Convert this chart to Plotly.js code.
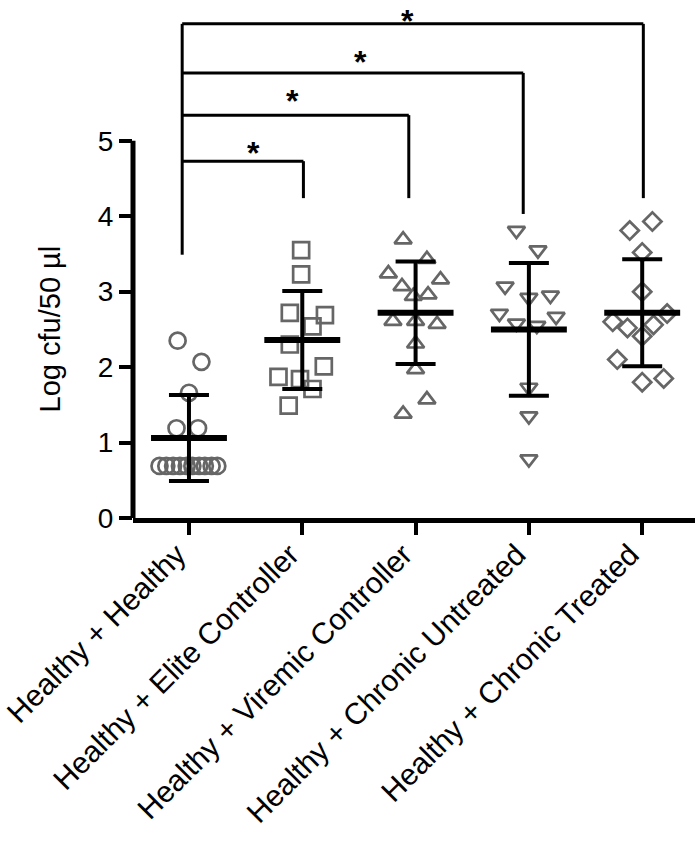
<!DOCTYPE html>
<html>
<head>
<meta charset="utf-8">
<script src="https://cdn.plot.ly/plotly-3.0.1.min.js"></script>
<style>html,body{margin:0;padding:0;background:#fff;}</style>
</head>
<body>
<div id="chart" style="width:700px;height:842px;"></div>
<script>
// ---- data ----
const categories = ["Healthy + Healthy", "Healthy + Elite Controller", "Healthy + Viremic Controller", "Healthy + Chronic Untreated", "Healthy + Chronic Treated"];

const healthyHealthy = [2.35, 2.07, 1.66, 1.19, 1.19, 0.69, 0.69, 0.69, 0.69, 0.69, 0.69, 0.69, 0.69, 0.69, 0.69];
const healthyHealthyJitter = [-0.10, 0.11, 0, -0.11, 0.08, -0.26, -0.20, -0.14, -0.08, -0.02, 0.03, 0.09, 0.14, 0.20, 0.25];

const eliteController = [3.55, 3.23, 2.72, 2.69, 2.54, 2.30, 2.01, 1.87, 1.84, 1.71, 1.49];
const eliteControllerJitter = [-0.01, -0.01, -0.11, 0.20, 0.09, -0.11, 0.19, -0.21, -0.02, 0.09, -0.12];

const viremicController = [3.69, 3.43, 3.24, 3.16, 3.07, 2.96, 2.94, 2.61, 2.61, 2.57, 2.31, 1.97, 1.57, 1.38];
const viremicControllerJitter = [-0.11, 0.10, -0.24, 0.22, -0.12, 0.11, -0.02, -0.20, 0, 0.19, 0, 0, 0.10, -0.11];

const chronicUntreated = [3.81, 3.55, 3.07, 2.95, 2.92, 2.71, 2.67, 2.58, 2.55, 1.73, 1.35, 0.78];
const chronicUntreatedJitter = [-0.11, 0.08, -0.21, 0.19, 0, -0.26, 0.24, -0.11, 0.07, 0, 0, 0];

const chronicTreated = [3.93, 3.81, 3.52, 3.00, 2.71, 2.60, 2.56, 2.52, 2.41, 2.10, 1.85, 1.80];
const chronicTreatedJitter = [0.09, -0.11, 0, 0, 0.22, -0.26, 0.10, -0.13, 0, -0.22, 0.19, 0];

const groupMeans = [1.06, 2.36, 2.72, 2.50, 2.72];
const groupSDs = [0.57, 0.65, 0.68, 0.88, 0.71];

const yTickVals = [0, 1, 2, 3, 4, 5];
const yTitle = "Log cfu/50 µl";

// significance brackets: compared group index, bracket level, drop end (log units)
const sigTargets = [1, 2, 3, 4];
const sigLevels = [4.73, 5.34, 5.90, 6.55];
const sigDropEnds = [4.24, 4.24, 4.03, 4.24];
const sigLeftEnd = 3.49;
const sigLabels = ["*", "*", "*", "*"];

// ---- build ----
const groups = [
  {v: healthyHealthy, j: healthyHealthyJitter, sym: "circle-open", size: 16},
  {v: eliteController, j: eliteControllerJitter, sym: "square-open", size: 16},
  {v: viremicController, j: viremicControllerJitter, sym: "triangle-up-open", size: 15},
  {v: chronicUntreated, j: chronicUntreatedJitter, sym: "triangle-down-open", size: 15},
  {v: chronicTreated, j: chronicTreatedJitter, sym: "diamond-open", size: 14}
];

const traces = [];
groups.forEach((g, i) => {
  traces.push({
    type: "scatter", mode: "markers", name: categories[i], showlegend: false,
    x: g.v.map((_, k) => i + g.j[k]), y: g.v, cliponaxis: false,
    marker: {symbol: g.sym, size: g.size, color: "#666666", line: {width: 2.7, color: "#666666"}},
    hoverinfo: "y"
  });
});

// SD error bars
traces.push({
  type: "scatter", mode: "markers", showlegend: false, hoverinfo: "skip",
  x: categories.map((_, i) => i), y: groupMeans,
  marker: {size: 1, color: "rgba(0,0,0,0)"},
  error_y: {type: "data", array: groupSDs, visible: true, color: "#000", thickness: 4, width: 20}
});

// mean lines
const mx = [], my = [];
groupMeans.forEach((m, i) => { mx.push(i - 0.335, i + 0.335, null); my.push(m, m, null); });
traces.push({type: "scatter", mode: "lines", showlegend: false, hoverinfo: "skip",
  x: mx, y: my, line: {color: "#000", width: 6}});

// small hand-drawn offsets of the bracket ends (category units) and star positions
const bracketLeftX = -0.06;
const bracketRightShift = [0.01, -0.06, -0.05, 0.01];
const starX = [0.57, 0.91, 1.51, 1.93];
const starShiftPx = [8, 14, 11, 3];

const shapes = [];
// y axis line only from 0 to 5
shapes.push({type: "line", xref: "paper", yref: "y", x0: 0, x1: 0, y0: -0.03, y1: yTickVals[yTickVals.length - 1],
  line: {color: "#000", width: 5}});
// brackets
shapes.push({type: "line", xref: "x", yref: "y", x0: bracketLeftX, x1: bracketLeftX, y0: sigLeftEnd, y1: Math.max(...sigLevels),
  line: {color: "#000", width: 3}});
const annotations = [];
sigTargets.forEach((t, k) => {
  const xr = t + bracketRightShift[k];
  shapes.push({type: "line", xref: "x", yref: "y", x0: bracketLeftX, x1: xr, y0: sigLevels[k], y1: sigLevels[k], line: {color: "#000", width: 3}});
  shapes.push({type: "line", xref: "x", yref: "y", x0: xr, x1: xr, y0: sigLevels[k], y1: sigDropEnds[k], line: {color: "#000", width: 3}});
  annotations.push({xref: "x", yref: "y", x: starX[k], y: sigLevels[k], text: "<b>" + sigLabels[k] + "</b>",
    showarrow: false, yanchor: "middle", xanchor: "center", yshift: starShiftPx[k], borderpad: 0,
    font: {size: 32, color: "#000", family: "Liberation Sans, Arial, sans-serif"}});
});

// y axis title, centred on the 0-5 tick span
annotations.push({xref: "paper", yref: "y", x: 0, y: (yTickVals[0] + yTickVals[yTickVals.length - 1]) / 2,
  xshift: -83, xanchor: "center", yanchor: "middle", textangle: -90, showarrow: false,
  text: yTitle, font: {size: 29, color: "#000", family: "Liberation Sans, Arial, sans-serif"}});

const layout = {
  width: 700, height: 842,
  margin: {l: 133, r: 5, t: 5, b: 324},
  paper_bgcolor: "#fff", plot_bgcolor: "#fff",
  font: {family: "Liberation Sans, Arial, sans-serif", color: "#000"},
  showlegend: false,
  xaxis: {
    range: [-0.494, 4.466], tickvals: categories.map((_, i) => i), ticktext: categories,
    tickangle: -45, tickfont: {size: 30, color: "#000"},
    ticklabelstandoff: -10, ticklabelshift: -12,
    showline: true, linecolor: "#000", linewidth: 5, ticks: "outside", ticklen: 12, tickwidth: 4, tickcolor: "#000",
    showgrid: false, zeroline: false, fixedrange: true, automargin: false
  },
  yaxis: {
    range: [0, 6.80], tickvals: yTickVals, ticktext: yTickVals.map(String),
    tickfont: {size: 28, color: "#000"},
    showline: false, ticks: "outside", ticklen: 13, tickwidth: 4, tickcolor: "#000",
    showgrid: false, zeroline: false, fixedrange: true, automargin: false
  },
  shapes: shapes,
  annotations: annotations
};

Plotly.newPlot("chart", traces, layout, {displayModeBar: false, staticPlot: true});
</script>
</body>
</html>
